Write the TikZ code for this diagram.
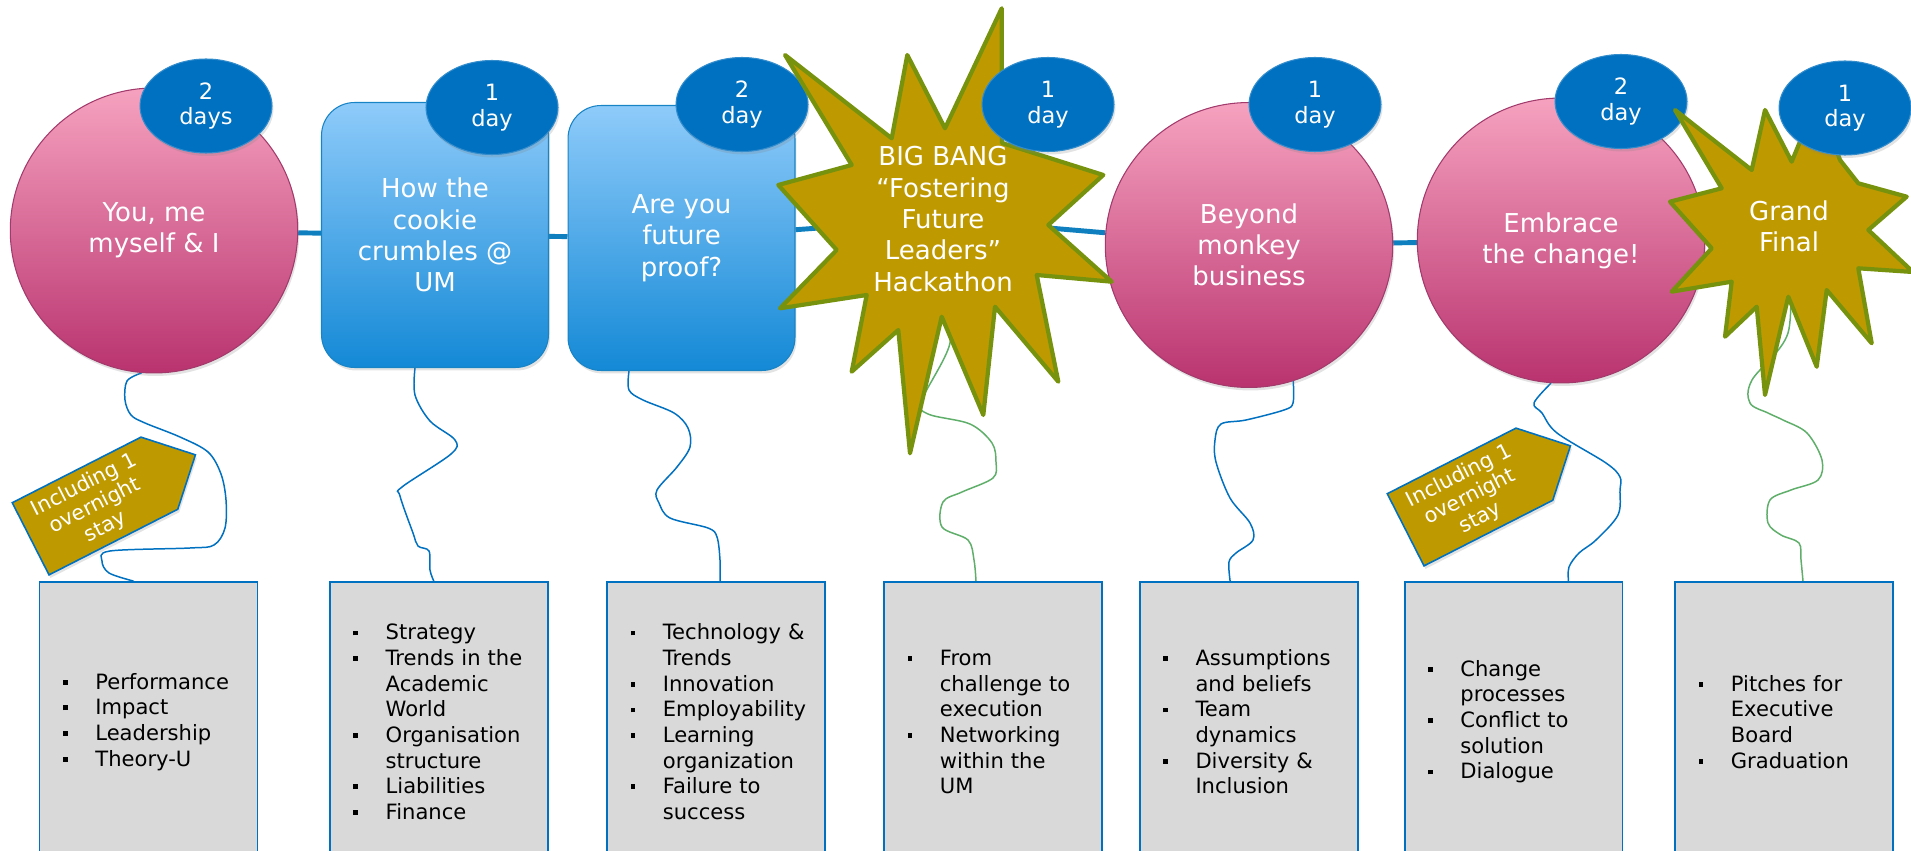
\documentclass[tikz,border=0pt]{standalone}
\usepackage{fontspec}
\setmainfont{DejaVu Sans}
\usepackage{enumitem}
\usetikzlibrary{shapes,positioning,arrows,fit,calc,shadows}
\pgfdeclarelayer{background}
\pgfsetlayers{background,main}

\definecolor{badgeblue}{HTML}{0070C0}
\definecolor{linkblue}{HTML}{0F7FC0}
\definecolor{balltop}{HTML}{F6A2BF}
\definecolor{ballbot}{HTML}{B9336F}
\definecolor{balledge}{HTML}{A23A6B}
\definecolor{cardtop}{HTML}{8ECBFA}
\definecolor{cardbot}{HTML}{1489D6}
\definecolor{cardedge}{HTML}{1884C6}
\definecolor{burstgold}{HTML}{BF9900}
\definecolor{burstedge}{HTML}{77930E}
\definecolor{topicgray}{HTML}{D9D9D9}
\definecolor{cordgreen}{HTML}{5FAE6A}

\newcommand{\bul}{\rule[2.6pt]{2.7pt}{2.7pt}}
\newenvironment{topics}{\begin{itemize}[nosep,leftmargin=31.8pt,labelsep=15.7pt,labelwidth=2.7pt,align=left,label=\bul]}{\end{itemize}}

\tikzset{
  softshadow/.style={drop shadow={opacity=0.22,shadow xshift=0.03cm,shadow yshift=-0.06cm}},
  badge/.style={ellipse, fill=badgeblue, draw=badgeblue!80!white, line width=0.6pt, text=white,
    minimum width=2.64cm, minimum height=1.88cm, inner sep=0pt, align=center,
    font=\fontsize{12.8}{14.6}\selectfont, softshadow},
  ball/.style={ellipse, top color=balltop, bottom color=ballbot, draw=balledge, line width=0.6pt,
    text=white, minimum width=5.75cm, minimum height=5.7cm, inner sep=0pt, align=center,
    font=\fontsize{14.8}{17.8}\selectfont, softshadow},
  card/.style={rectangle, rounded corners=0.66cm, top color=cardtop, bottom color=cardbot,
    draw=cardedge, line width=0.6pt, text=white, minimum width=4.54cm, minimum height=5.3cm,
    align=center, font=\fontsize{14.8}{17.8}\selectfont, softshadow},
  bangtext/.style={text=white, align=center, font=\fontsize{14.8}{17.8}\selectfont},
  burst/.style={fill=burstgold, draw=burstedge, line width=2.4pt, line join=round},
  topic/.style={rectangle, fill=topicgray, draw=badgeblue, line width=1.1pt, text width=4.36cm,
    inner xsep=0pt, minimum height=5.4cm, align=left, font=\fontsize{12}{14.6}\selectfont},
  tag/.style={signal, signal to=east, fill=burstgold, draw=badgeblue, line width=0.9pt, text=white,
    minimum width=3.7cm, minimum height=1.62cm, inner sep=0pt, align=center,
    font=\fontsize{11.8}{13.4}\selectfont, softshadow},
  link/.style={draw=linkblue, line width=2.8pt},
  cord/.style={draw=badgeblue, line width=0.85pt},
  greencord/.style={draw=cordgreen, line width=0.85pt},
}

\begin{document}
\begin{tikzpicture}[x=0.02cm, y=-0.02cm]
\useasboundingbox (0,0) rectangle (1911,851);
\clip (0,0) rectangle (1911,851);

% topics
\node[topic] (l1) at (148.5,717) {\begin{topics}
  \item Performance
  \item Impact
  \item Leadership
  \item Theory-U
\end{topics}};
\node[topic] (l2) at (438.8,717) {\begin{topics}
  \item Strategy
  \item Trends in the\\Academic\\World
  \item Organisation\\structure
  \item Liabilities
  \item Finance
\end{topics}};
\node[topic] (l3) at (716,717) {\begin{topics}
  \item Technology \&\\Trends
  \item Innovation
  \item Employability
  \item Learning\\organization
  \item Failure to\\success
\end{topics}\vspace*{0.5cm}};
\node[topic] (l4) at (993,717) {\begin{topics}
  \item From\\challenge to\\execution
  \item Networking\\within the\\UM
\end{topics}};
\node[topic] (l5) at (1248.6,717) {\begin{topics}
  \item Assumptions\\and beliefs
  \item Team\\dynamics
  \item Diversity \&\\Inclusion
\end{topics}};
\node[topic] (l6) at (1513.5,717) {\begin{topics}
  \item Change\\processes
  \item Conflict to\\solution
  \item Dialogue
\end{topics}};
\node[topic] (l7) at (1784,717) {\begin{topics}
  \item Pitches for\\Executive\\Board
  \item Graduation
\end{topics}};

% modules
\node[ball] (c1) at (154,230.5) {You, me\\myself \& I};
\node[badge] (d1) at (206,106) {2\\days};
\node[card] (b2) at (435,235) {How the\\cookie\\crumbles @\\UM};
\node[badge] (d2) at (492,107.5) {1\\day};
\node[card] (b3) at (681.5,238) {Are you\\future\\proof?};
\node[badge] (d3) at (742,104.5) {2\\day};
\node[ball] (c5) at (1249,245) {Beyond\\monkey\\business};
\node[badge] (d5) at (1315,104.5) {1\\day};
\draw[burst] (785,55) -- (891.7,138.3) -- (907.3,55) -- (945,128.3) -- (1001.7,8.3)
  -- (1002,143) -- (1103.3,175) -- (1048.3,225) -- (1111.7,281.7) -- (1036.7,275)
  -- (1058.3,381.7) -- (995,306.7) -- (983.3,415) -- (941.7,316.7) -- (910,453.3)
  -- (898.3,330) -- (851.7,371.7) -- (866.7,295) -- (780,308.3) -- (836.7,250)
  -- (778.3,185) -- (851.7,165) -- cycle;
\node[bangtext] (bang) at (943,219) {BIG BANG\\“Fostering\\Future\\Leaders”\\Hackathon};
\node[badge] (d4) at (1048,104.5) {1\\day};
\node[ball] (c6) at (1561,240.5) {Embrace\\the change!};
\node[badge] (d6) at (1621,101.5) {2\\day};
\draw[burst] (1675,110) -- (1751.7,170) -- (1765,110) -- (1791.7,161.7) -- (1818,98)
  -- (1840,160) -- (1858.3,183.3) -- (1906.7,196.7) -- (1868.3,230) -- (1913,272)
  -- (1858.3,268.3) -- (1871.7,343.3) -- (1826.7,290) -- (1816.7,366.7) -- (1788.3,296.7)
  -- (1765,395) -- (1756.7,306.7) -- (1725,336.7) -- (1731.7,281.7) -- (1671.7,291.7)
  -- (1711.7,248.3) -- (1670,201.7) -- (1721.7,188.3) -- cycle;
\node[bangtext] (final) at (1789,226) {Grand\\Final};
\node[badge] (d7) at (1845,108) {1\\day};

% overnight tags
\node[tag, rotate=27] (t1) at (95,506) {Including 1\\overnight\\stay};
\node[tag, rotate=27] (t2) at (1470,497) {Including 1\\overnight\\stay};

\begin{pgfonlayer}{background}
\draw[link] (c1) -- (b2) -- (b3) -- (bang) -- (c5) -- (c6) -- (final);
\draw[cord] plot[smooth, tension=0.55] coordinates {(c1.-95) (127,381) (125,400) (131,415)
  (145,423) (180,437) (208,452) (221,474) (226,500) (225,528) (214,545) (190,548) (110,551)
  (102,561) (109,573) ([xshift=-0.3cm]l1.north)};
\draw[cord] plot[smooth, tension=0.55] coordinates {([xshift=-0.4cm]b2.south) (415,395)
  (430,421) (455,440) (451,454) (402,487) (400,496) (413,533) (418,546) (429,551) (430,570)
  ([xshift=-0.1cm]l2.north)};
\draw[cord] plot[smooth, tension=0.55] coordinates {([xshift=-1.05cm]b3.south) (629,390)
  (643,400) (674,413) (688,428) (690,447) (677,467) (657,490) (659,503) (670,518) (708,528)
  (717,537) (720,560) ([xshift=0.08cm]l3.north)};
\draw[greencord] plot[smooth, tension=0.55] coordinates {(bang.south) (950,343) (922,400)
  (928,414) (970,424) (992,443) (996,462) (993,478) (962,492) (943,502) (942,527) (968,540)
  (974,560) ([xshift=-0.34cm]l4.north)};
\draw[cord] plot[smooth, tension=0.55] coordinates {(c5.-72) (1293,403) (1284,410) (1246,420)
  (1221,424) (1215,440) (1216,462) (1230,498) (1250,523) (1253,540) (1236,553) (1229,562)
  ([xshift=-0.37cm]l5.north)};
\draw[cord] plot[smooth, tension=0.55] coordinates {(c6.-94) (1534,403) (1542,413) (1557,433)
  (1606,463) (1620,477) (1620,490) (1618,515) (1596,540) (1579,553) (1569,567)
  ([xshift=1.1cm]l6.north)};
\draw[greencord] plot[smooth, tension=0.55] coordinates {(final.south) (1788,333) (1752,380)
  (1750,403) (1768,413) (1783,420) (1807,433) (1822,460) (1818,480) (1791,490) (1770,500)
  (1768,523) (1781,535) (1799,543) (1801,560) ([xshift=0.38cm]l7.north)};
\end{pgfonlayer}
\end{tikzpicture}
\end{document}
